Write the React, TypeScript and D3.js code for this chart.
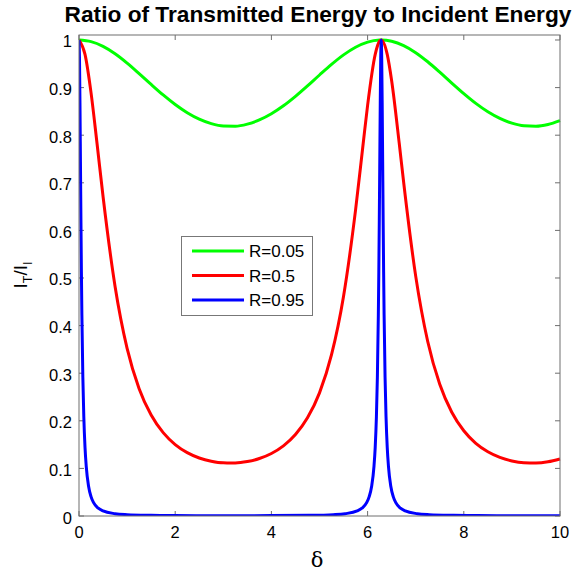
import React from "react";
import * as d3 from "d3";

const deltaGreen = [0, 0.25, 0.5, 0.75, 1, 1.25, 1.5, 1.75, 2, 2.25, 2.5, 2.75, 3, 3.25, 3.5, 3.75, 4, 4.25, 4.5, 4.75, 5, 5.25, 5.5, 5.75, 6, 6.25, 6.2832, 6.5, 6.75, 7, 7.25, 7.5, 7.75, 8, 8.25, 8.5, 8.75, 9, 9.25, 9.5, 9.75, 10];
const ratioGreen = [1, 0.99657, 0.98662, 0.97113, 0.95153, 0.92949, 0.90665, 0.88452, 0.86437, 0.84717, 0.83363, 0.82425, 0.81934, 0.81903, 0.82334, 0.83214, 0.84514, 0.86184, 0.88171, 0.90364, 0.92647, 0.94871, 0.96873, 0.98486, 0.99561, 0.99994, 1, 0.99741, 0.98831, 0.97345, 0.95431, 0.93249, 0.90964, 0.88737, 0.86683, 0.84924, 0.8353, 0.82525, 0.8197, 0.8188, 0.82251, 0.83072];

const deltaRed = [0, 0.125, 0.25, 0.375, 0.5, 0.75, 1, 1.25, 1.5, 1.75, 2, 2.25, 2.5, 2.75, 3, 3.25, 3.5, 3.75, 4, 4.25, 4.5, 4.75, 5, 5.25, 5.5, 5.75, 5.9082, 6, 6.1582, 6.25, 6.2832, 6.4082, 6.5, 6.6582, 6.75, 7, 7.25, 7.5, 7.75, 8, 8.25, 8.5, 8.75, 9, 9.25, 9.5, 9.75, 10];
const ratioRed = [1, 0.96974, 0.8894, 0.78249, 0.67129, 0.48233, 0.35226, 0.26747, 0.212, 0.17505, 0.15005, 0.13311, 0.12188, 0.11498, 0.11161, 0.1114, 0.11434, 0.12074, 0.13133, 0.14735, 0.17114, 0.2062, 0.25871, 0.33879, 0.46182, 0.64315, 0.78249, 0.86257, 0.96974, 0.9978, 1, 0.96974, 0.91437, 0.78249, 0.70068, 0.50393, 0.36652, 0.27675, 0.21807, 0.17915, 0.15276, 0.13498, 0.12319, 0.11568, 0.11185, 0.11125, 0.11376, 0.11967];

const deltaBlue = [0, 0.01, 0.02, 0.03, 0.04, 0.05, 0.06, 0.08, 0.1, 0.125, 0.15, 0.2, 0.25, 0.3, 0.4, 0.5, 0.75, 1, 1.5, 2, 3, 4, 4.7832, 5.2832, 5.5332, 5.7832, 5.8832, 5.9832, 6.0332, 6.0832, 6.1332, 6.1582, 6.1832, 6.2032, 6.2232, 6.2332, 6.2432, 6.2532, 6.2632, 6.2732, 6.2832, 6.2932, 6.3032, 6.3132, 6.3232, 6.3332, 6.3432, 6.3632, 6.3832, 6.4082, 6.4332, 6.4832, 6.5332, 6.5832, 6.6832, 6.7832, 7.0332, 7.2832, 7.7832, 8.2832, 9, 10];
const ratioBlue = [1, 0.96339, 0.86806, 0.74516, 0.62189, 0.51282, 0.4223, 0.29149, 0.20847, 0.14431, 0.10489, 0.06192, 0.04061, 0.02862, 0.0164, 0.01063, 0.00488, 0.00285, 0.00141, 0.00093, 0.00066, 0.0008, 0.00141, 0.00285, 0.00488, 0.01063, 0.0164, 0.02862, 0.04061, 0.06192, 0.10489, 0.14431, 0.20847, 0.29149, 0.4223, 0.51282, 0.62189, 0.74516, 0.86806, 0.96339, 1, 0.96339, 0.86806, 0.74516, 0.62189, 0.51282, 0.4223, 0.29149, 0.20847, 0.14431, 0.10489, 0.06192, 0.04061, 0.02862, 0.0164, 0.01063, 0.00488, 0.00285, 0.00141, 0.00093, 0.00069, 0.00072];

const seriesNames = ["R=0.05", "R=0.5", "R=0.95"];
const seriesColors = ["#00ff00", "#ff0000", "#0000ff"];
const xTicks = [0, 2, 4, 6, 8, 10];
const yTicks = [0, 0.1, 0.2, 0.3, 0.4, 0.5, 0.6, 0.7, 0.8, 0.9, 1];
const titleText = "Ratio of Transmitted Energy to Incident Energy";

const W = 576, H = 571;
const L = 79, R = 560, T = 35, B = 516;
const FONT = "'Liberation Sans', Arial, Helvetica, sans-serif";

export default function App() {
  const x = d3.scaleLinear().domain([0, 10]).range([L, R]);
  const y = d3.scaleLinear().domain([0, 1.0105]).range([B, T]);
  const line = d3
    .line<[number, number]>()
    .x((d) => x(d[0]))
    .y((d) => y(d[1]))
    .curve(d3.curveMonotoneX);

  const series = [
    { xs: deltaGreen, ys: ratioGreen },
    { xs: deltaRed, ys: ratioRed },
    { xs: deltaBlue, ys: ratioBlue },
  ];

  const tickLen = 5;
  const axisColor = "#6e6e6e";

  return (
    <svg
      width={W}
      height={H}
      style={{ position: "absolute", left: 0, top: 0, background: "#fff" }}
      fontFamily={FONT}
    >
      <defs>
        <clipPath id="plotclip">
          <rect x={L} y={T - 3} width={R - L + 2} height={B - T + 3} />
        </clipPath>
      </defs>
      <rect x={0} y={0} width={W} height={H} fill="#fff" />

      {/* ticks */}
      {xTicks.map((t) => (
        <g key={"xt" + t}>
          <line x1={x(t)} x2={x(t)} y1={B} y2={B - tickLen} stroke={axisColor} />
          <line x1={x(t)} x2={x(t)} y1={T} y2={T + tickLen} stroke={axisColor} />
          <text x={x(t)} y={538} textAnchor="middle" fontSize={16.5} fill="#000">
            {t}
          </text>
        </g>
      ))}
      {yTicks.map((t) => (
        <g key={"yt" + t}>
          <line x1={L} x2={L + tickLen} y1={y(t)} y2={y(t)} stroke={axisColor} />
          <line x1={R} x2={R - tickLen} y1={y(t)} y2={y(t)} stroke={axisColor} />
          <text x={72} y={y(t) + 7.5} textAnchor="end" fontSize={16.5} fill="#000">
            {String(t)}
          </text>
        </g>
      ))}

      {/* curves */}
      <g clipPath="url(#plotclip)">
        {series.map((s, i) => (
          <path
            key={i}
            d={line(s.xs.map((v, j) => [v, s.ys[j]] as [number, number])) || ""}
            fill="none"
            stroke={seriesColors[i]}
            strokeWidth={3}
            strokeLinejoin="round"
          />
        ))}
      </g>

      {/* axes box */}
      <rect x={L} y={T} width={R - L} height={B - T} fill="none" stroke={axisColor} strokeWidth={1} />

      {/* legend */}
      <g>
        <rect x={181.5} y={236.5} width={131} height={79} fill="#fff" stroke="#777" strokeWidth={1} />
        {seriesNames.map((n, i) => {
          const ly = 251 + i * 24.5;
          return (
            <g key={n}>
              <line x1={192} x2={244} y1={ly} y2={ly} stroke={seriesColors[i]} strokeWidth={3} />
              <text x={249} y={ly + 6} fontSize={17} fill="#000">
                {n}
              </text>
            </g>
          );
        })}
      </g>

      {/* title */}
      <text x={318} y={22} textAnchor="middle" fontSize={22.7} fontWeight="bold" fill="#000">
        {titleText}
      </text>

      {/* x label */}
      <text x={317} y={567} textAnchor="middle" fontSize={21} fill="#000" fontFamily="'DejaVu Serif', 'Liberation Serif', serif">
        δ
      </text>

      {/* y label */}
      <text transform="translate(27,275) rotate(-90)" textAnchor="middle" fontSize={19} fill="#000">
        <tspan>I</tspan>
        <tspan fontSize={12.5} dy={5}>T</tspan>
        <tspan dy={-5}>/I</tspan>
        <tspan fontSize={12.5} dy={5}>I</tspan>
      </text>
    </svg>
  );
}
